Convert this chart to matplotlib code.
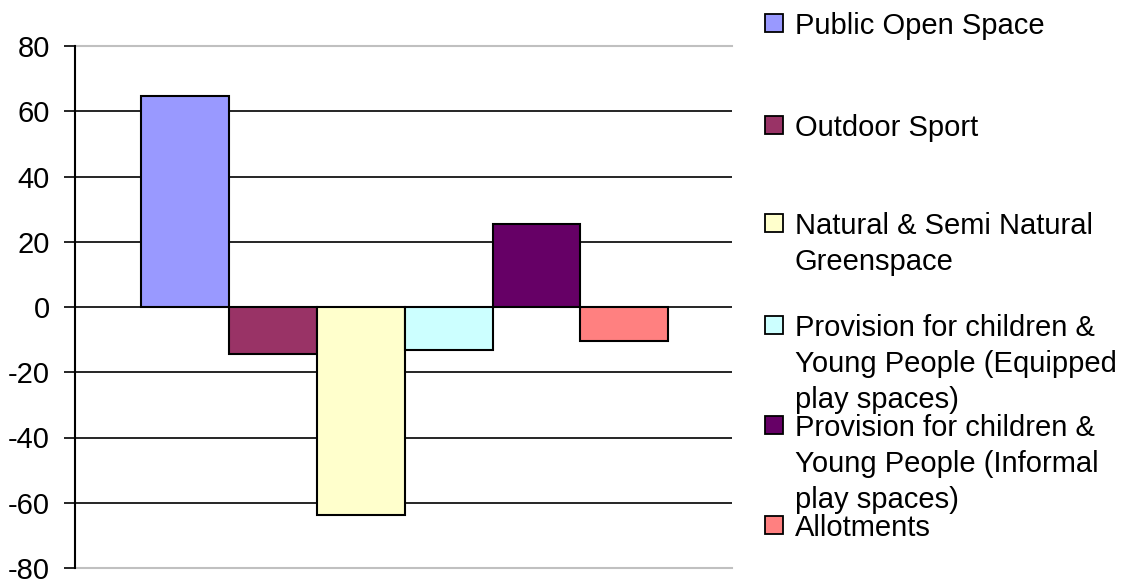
import matplotlib
matplotlib.use("Agg")
import matplotlib.pyplot as plt
from matplotlib.patches import Rectangle

series_names = [
    "Public Open Space",
    "Outdoor Sport",
    "Natural & Semi Natural\nGreenspace",
    "Provision for children &\nYoung People (Equipped\nplay spaces)",
    "Provision for children &\nYoung People (Informal\nplay spaces)",
    "Allotments",
]
values = [64.7, -14.5, -63.7, -13.3, 25.5, -10.5]
colors = ["#9999FF", "#993366", "#FFFFCC", "#CCFFFF", "#660066", "#FF8080"]
yticks = [-80, -60, -40, -20, 0, 20, 40, 60, 80]

plt.rcParams['font.family'] = ['Liberation Sans', 'DejaVu Sans']

W, H = 1121, 583
fig = plt.figure(figsize=(W / 100, H / 100), dpi=100)
ax_left, ax_right, ax_top, ax_bot = 75, 732, 46, 568
ax = fig.add_axes([ax_left / W, 1 - ax_bot / H, (ax_right - ax_left) / W, (ax_bot - ax_top) / H])

n = len(values)
group = 0.802
bw = group / n
start = -group / 2 + 0.002
for i, (v, c) in enumerate(zip(values, colors)):
    ax.bar(start + bw * (i + 0.5), v, width=bw, color=c, edgecolor="black",
           linewidth=1.5, zorder=3)

ax.set_xlim(-0.5, 0.5)
ax.set_ylim(-80, 80)
for t in yticks:
    if abs(t) == 80:
        continue
    ax.axhline(t, color="black", linewidth=1.2, zorder=1)
ax.set_yticks(yticks)
ax.set_yticklabels([str(t) for t in yticks], fontsize=21)
ax.tick_params(axis='y', length=8, width=1.2, pad=10, direction='out')
ax.set_xticks([])
ax.spines['right'].set_visible(False)
ax.spines['top'].set_color('#C0C0C0')
ax.spines['bottom'].set_color('#C0C0C0')
ax.spines['top'].set_linewidth(1.5)
ax.spines['bottom'].set_linewidth(1.5)
ax.spines['left'].set_linewidth(1.5)
ax.spines['left'].set_zorder(4)

# legend drawn manually (Excel-style evenly spaced entries)
entry_y = [23, 125, 223, 325, 425, 525]
sq = 18
for name, c, y in zip(series_names, colors, entry_y):
    fig.patches.append(Rectangle(((765) / W, 1 - (y + sq / 2) / H), sq / W, sq / H,
                                 transform=fig.transFigure, facecolor=c,
                                 edgecolor="black", linewidth=1.3))
    fig.text(795 / W, 1 - (y - 11) / H, name, fontsize=21, va='top', ha='left',
             linespacing=1.36)

fig.savefig("out.png", dpi=100)
